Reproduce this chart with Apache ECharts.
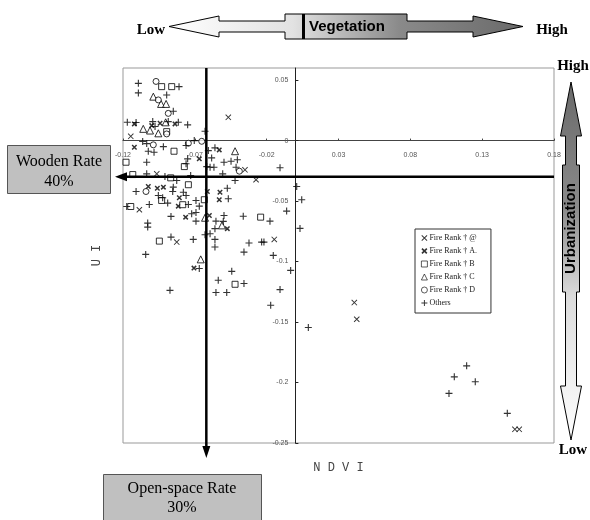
<!DOCTYPE html>
<html>
<head>
<meta charset="utf-8">
<script src="https://cdn.jsdelivr.net/npm/echarts@6/dist/echarts.min.js"></script>
<style>html,body{margin:0;padding:0;background:#fff}#c{width:590px;height:520px}</style>
</head>
<body>
<div id="c"></div>
<script>
// ---- data (NDVI, UI) ----
const seriesNames = ['Fire Rank \u2020 @', 'Fire Rank \u2020 A.', 'Fire Rank \u2020 B', 'Fire Rank \u2020 C', 'Fire Rank \u2020 D', 'Others'];
const fireRankAt = [[-0.0467,0.0192],[-0.0351,-0.0242],[-0.0274,-0.0324],[-0.0965,-0.0275],[-0.1146,0.0035],[-0.1086,-0.0572],[-0.0826,-0.0839],[-0.0147,-0.0817],[0.0410,-0.1339],[0.0427,-0.1477],[0.1528,-0.2387],[0.1558,-0.2387]];
const fireRankA = [[-0.1121,0.0138],[-0.1000,0.0124],[-0.0942,0.0143],[-0.0838,0.0138],[-0.1121,-0.0055],[-0.0669,-0.0151],[-0.0530,-0.0077],[-0.1024,-0.0380],[-0.0961,-0.0394],[-0.0919,-0.0385],[-0.0808,-0.0473],[-0.0815,-0.0542],[-0.0613,-0.0421],[-0.0525,-0.0427],[-0.0530,-0.0489],[-0.0764,-0.0633],[-0.0599,-0.0619],[-0.0474,-0.0728],[-0.0706,-0.1054]];
const fireRankB = [[-0.0931,0.0446],[-0.0861,0.0446],[-0.0896,0.0074],[-0.0845,-0.0088],[-0.1179,-0.0179],[-0.0773,-0.0215],[-0.1132,-0.0281],[-0.0868,-0.0308],[-0.0745,-0.0365],[-0.0931,-0.0495],[-0.1146,-0.0545],[-0.0784,-0.0530],[-0.0634,-0.0489],[-0.0242,-0.0633],[-0.0947,-0.0831],[-0.0420,-0.1188]];
const fireRankC = [[-0.0989,0.0363],[-0.0935,0.0303],[-0.0900,0.0303],[-0.1059,0.0097],[-0.1012,0.0083],[-0.0903,0.0151],[-0.0954,0.0060],[-0.0420,-0.0088],[-0.0629,-0.0638],[-0.0511,-0.0701],[-0.0659,-0.0982]];
const fireRankD = [[-0.0970,0.0489],[-0.0954,0.0336],[-0.0885,0.0225],[-0.0896,0.0055],[-0.0989,-0.0035],[-0.0745,-0.0022],[-0.0652,-0.0006],[-0.0390,-0.0253],[-0.1040,-0.0421]];
const others = [[-0.1093,0.0473],[-0.0810,0.0446],[-0.1093,0.0394],[-0.0896,0.0377],[-0.0850,0.0242],[-0.1170,0.0151],[-0.1109,0.0149],[-0.0993,0.0157],[-0.0977,0.0116],[-0.0885,0.0157],[-0.0815,0.0151],[-0.0750,0.0130],[-0.0629,0.0077],[-0.1063,-0.0008],[-0.1035,-0.0025],[-0.0919,-0.0050],[-0.0761,-0.0041],[-0.0704,0.0000],[-0.1024,-0.0088],[-0.0984,-0.0097],[-0.1035,-0.0179],[-0.0750,-0.0151],[-0.0761,-0.0192],[-0.0606,-0.0083],[-0.0560,-0.0060],[-0.0583,-0.0143],[-0.0617,-0.0215],[-0.0594,-0.0220],[-0.0567,-0.0220],[-0.0497,-0.0179],[-0.0448,-0.0171],[-0.0404,-0.0159],[-0.0413,-0.0220],[-0.0107,-0.0225],[-0.0506,-0.0275],[-0.1035,-0.0275],[-0.0908,-0.0297],[-0.0826,-0.0330],[-0.0729,-0.0289],[-0.0420,-0.0330],[0.0009,-0.0380],[-0.1109,-0.0421],[-0.0954,-0.0454],[-0.0850,-0.0385],[-0.0854,-0.0421],[-0.0780,-0.0427],[-0.0761,-0.0454],[-0.0924,-0.0473],[-0.1017,-0.0528],[-0.0889,-0.0517],[-0.1174,-0.0545],[-0.0745,-0.0528],[-0.0692,-0.0495],[-0.0669,-0.0542],[-0.0474,-0.0394],[-0.0467,-0.0481],[-0.0866,-0.0627],[-0.0722,-0.0605],[-0.0692,-0.0594],[-0.0692,-0.0666],[-0.0497,-0.0619],[-0.0553,-0.0666],[-0.0502,-0.0668],[-0.0560,-0.0728],[-0.0363,-0.0625],[-0.0177,-0.0666],[-0.0061,-0.0583],[-0.1028,-0.0682],[-0.1028,-0.0715],[-0.0594,-0.0770],[-0.0629,-0.0778],[-0.0560,-0.0817],[-0.0560,-0.0880],[-0.0866,-0.0798],[-0.0711,-0.0817],[-0.0323,-0.0847],[-0.0235,-0.0839],[-0.0219,-0.0839],[-0.1042,-0.0941],[-0.0358,-0.0922],[-0.0154,-0.0949],[-0.0033,-0.1073],[-0.0669,-0.1058],[-0.0443,-0.1081],[-0.0537,-0.1155],[-0.0358,-0.1182],[-0.0873,-0.1238],[-0.0553,-0.1256],[-0.0478,-0.1256],[-0.0107,-0.1232],[-0.0172,-0.1361],[0.0044,-0.0489],[0.0032,-0.0726],[0.0090,-0.1545],[0.1192,-0.1862],[0.1106,-0.1953],[0.1252,-0.1994],[0.1069,-0.2090],[0.1475,-0.2255]];
const xMin = -0.12, xMax = 0.18, xStep = 0.05;
const yMin = -0.25, yMax = 0.06, yStep = 0.05;
const openSpaceThreshold = -0.062; // NDVI
const woodenThreshold = -0.03;     // UI
const texts = {
  xName: 'N D V I', yName: 'U I',
  wooden: ['Wooden Rate', '40%'], open: ['Open-space Rate', '30%'],
  veg: 'Vegetation', urb: 'Urbanization', low: 'Low', high: 'High'
};

const plusPath = 'path://M4.2,0h1.6v10h-1.6zM0,4.2h10v1.6h-10z';
const crossPath = 'path://M0,1.1L1.1,0L10,8.9L8.9,10ZM1.1,10L0,8.9L8.9,0L10,1.1Z';
const boldCrossPath = 'path://M0,1.9L1.9,0L10,8.1L8.1,10ZM1.9,10L0,8.1L8.1,0L10,1.9Z';
const hollow = {color: '#fff', borderColor: '#000', borderWidth: 1};
const solid = {color: '#000', borderWidth: 0};
const symbols = [crossPath, boldCrossPath, 'rect', 'triangle', 'circle', plusPath];
const styles = [solid, solid, hollow, hollow, hollow, solid];

const chart = echarts.init(document.getElementById('c'), null, {renderer: 'canvas'});
const axisLabel = {fontFamily: 'Liberation Sans', fontSize: 7, color: '#555'};
chart.setOption({
  animation: false,
  backgroundColor: '#fff',
  grid: {left: 123, right: 36, top: 68, bottom: 77, show: true, borderColor: '#999', borderWidth: 1, backgroundColor: 'transparent'},
  xAxis: {
    type: 'value', min: xMin, max: xMax, interval: xStep, position: 'bottom', offset: 0,
    axisLine: {onZero: false, lineStyle: {color: '#444', width: 1}},
    axisTick: {show: true, length: 2, inside: true, lineStyle: {color: '#444'}},
    splitLine: {show: false},
    axisLabel: Object.assign({margin: 11, formatter: v => (+v).toFixed(2)}, axisLabel)
  },
  yAxis: {
    type: 'value', min: yMin, max: yMax, interval: yStep, position: 'left', offset: 0,
    axisLine: {onZero: false, lineStyle: {color: '#222', width: 1}},
    axisTick: {show: true, length: 3, inside: true, lineStyle: {color: '#222'}},
    splitLine: {show: false},
    axisLabel: Object.assign({margin: 7, showMaxLabel: false, formatter: v => { const r = Math.round(v * 100) / 100; return r === 0 ? '0' : String(r); }}, axisLabel)
  },
  legend: {
    orient: 'vertical', left: 415, top: 229,
    borderColor: '#333', borderWidth: 1, padding: [5, 14, 6, 6],
    itemWidth: 6, itemHeight: 6, itemGap: 5,
    textStyle: {fontFamily: 'Liberation Serif', fontSize: 8, color: '#222', padding: [0, 0, 0, -3]},
    data: seriesNames.map((n, i) => ({name: n, icon: symbols[i], itemStyle: Object.assign({}, styles[i], styles[i] === hollow ? {borderWidth: 0.8} : {})}))
  },
  series: [
    {name: seriesNames[0], type: 'scatter', data: fireRankAt, symbol: symbols[0], symbolSize: 6, itemStyle: styles[0]},
    {name: seriesNames[1], type: 'scatter', data: fireRankA, symbol: symbols[1], symbolSize: 5.5, itemStyle: styles[1]},
    {name: seriesNames[2], type: 'scatter', data: fireRankB, symbol: symbols[2], symbolSize: 6, itemStyle: styles[2]},
    {name: seriesNames[3], type: 'scatter', data: fireRankC, symbol: symbols[3], symbolSize: 7, itemStyle: styles[3]},
    {name: seriesNames[4], type: 'scatter', data: fireRankD, symbol: symbols[4], symbolSize: 6, itemStyle: styles[4]},
    {name: seriesNames[5], type: 'scatter', data: others, symbol: symbols[5], symbolSize: 7, itemStyle: styles[5]}
  ]
});

// ---- positions taken from the axes' scales ----
const px = v => chart.convertToPixel({xAxisIndex: 0}, v);
const py = v => chart.convertToPixel({yAxisIndex: 0}, v);
const gl = px(xMin), gr = px(xMax), gt = py(yMax), gb = py(yMin);
const tx = px(openSpaceThreshold), ty = py(woodenThreshold);
// move the axes so that they cross at zero, labels travelling with them
chart.setOption({xAxis: {offset: -(gb - py(0))}, yAxis: {offset: -(px(0) - gl)}});

const serif = 'Liberation Serif', sans = 'Liberation Sans';
function txt(x, y, s, size, opt) {
  return Object.assign({type: 'text', x: x, y: y, z: 50, style: Object.assign({text: s, fontSize: size, fontFamily: serif, fill: '#000', align: 'center', verticalAlign: 'middle'}, (opt && opt.style) || {})}, (opt && opt.el) || {});
}
function box(x, y, w, h) {
  return {type: 'rect', z: 40, shape: {x: x, y: y, width: w, height: h}, style: {fill: '#c0c0c0', stroke: '#555', lineWidth: 1}};
}
// horizontal double arrow (Vegetation)
const hc = 26.5, hL = 169, hR = 523, hHead = 50, hHeadH = 10.5, hShaft = 5.5, hBoxL = 285, hBoxR = 407, hBox = 12.5;
const hArrow = [[hL, hc], [hL + hHead, hc - hHeadH], [hL + hHead, hc - hShaft], [hBoxL, hc - hShaft], [hBoxL, hc - hBox], [hBoxR, hc - hBox], [hBoxR, hc - hShaft], [hR - hHead, hc - hShaft], [hR - hHead, hc - hHeadH], [hR, hc], [hR - hHead, hc + hHeadH], [hR - hHead, hc + hShaft], [hBoxR, hc + hShaft], [hBoxR, hc + hBox], [hBoxL, hc + hBox], [hBoxL, hc + hShaft], [hL + hHead, hc + hShaft], [hL + hHead, hc + hHeadH]];
// vertical double arrow (Urbanization)
const vc = 571, vT = 82, vB = 440, vHead = 54, vHeadW = 10.5, vShaft = 5.5, vBoxT = 165, vBoxB = 292, vBox = 8.5;
const vArrow = [[vc, vT], [vc + vHeadW, vT + vHead], [vc + vShaft, vT + vHead], [vc + vShaft, vBoxT], [vc + vBox, vBoxT], [vc + vBox, vBoxB], [vc + vShaft, vBoxB], [vc + vShaft, vB - vHead], [vc + vHeadW, vB - vHead], [vc, vB], [vc - vHeadW, vB - vHead], [vc - vShaft, vB - vHead], [vc - vShaft, vBoxB], [vc - vBox, vBoxB], [vc - vBox, vBoxT], [vc - vShaft, vBoxT], [vc - vShaft, vT + vHead], [vc - vHeadW, vT + vHead]];

chart.setOption({
  graphic: [
    // threshold lines with arrowheads
    {type: 'line', z: 30, shape: {x1: gr, y1: ty, x2: gl - 2, y2: ty}, style: {stroke: '#000', lineWidth: 2.5}},
    {type: 'polygon', z: 30, shape: {points: [[gl - 8, ty], [gl + 4, ty - 4.5], [gl + 4, ty + 4.5]]}, style: {fill: '#000'}},
    {type: 'line', z: 30, shape: {x1: tx, y1: gt, x2: tx, y2: gb + 8}, style: {stroke: '#000', lineWidth: 2.5}},
    {type: 'polygon', z: 30, shape: {points: [[tx, gb + 15], [tx - 4, gb + 3], [tx + 4, gb + 3]]}, style: {fill: '#000'}},
    // rate boxes
    box(7.5, 145.5, 103, 48),
    txt(59, 162, texts.wooden[0], 16),
    txt(59, 182, texts.wooden[1], 16),
    box(103.5, 474.5, 158, 60),
    txt(182, 489, texts.open[0], 16),
    txt(182, 508, texts.open[1], 16),
    // axis names
    txt((gl + gr) / 2, gb + 25, texts.xName, 12, {style: {fontFamily: 'Liberation Mono', fill: '#444'}}),
    txt(gl - 26, (gt + gb) / 2, texts.yName, 12, {style: {fontFamily: 'Liberation Mono', fill: '#444'}, el: {rotation: Math.PI / 2}}),
    // vegetation arrow
    {type: 'polygon', z: 20, shape: {points: hArrow}, style: {stroke: '#000', lineWidth: 1, fill: {type: 'linear', x: 0, y: 0, x2: 1, y2: 0, colorStops: [{offset: 0, color: '#ffffff'}, {offset: 0.35, color: '#e2e2e2'}, {offset: 0.65, color: '#8a8a8a'}, {offset: 1, color: '#6a6a6a'}]}}},
    {type: 'rect', z: 21, shape: {x: 302, y: hc - hBox, width: 3, height: hBox * 2}, style: {fill: '#000'}},
    txt(347, hc, texts.veg, 15, {style: {fontFamily: sans, fontWeight: 'bold'}}),
    txt(151, 30, texts.low, 15, {style: {fontWeight: 'bold'}}),
    txt(552, 30, texts.high, 15, {style: {fontWeight: 'bold'}}),
    // urbanization arrow
    {type: 'polygon', z: 20, shape: {points: vArrow}, style: {stroke: '#000', lineWidth: 1, fill: {type: 'linear', x: 0, y: 0, x2: 0, y2: 1, colorStops: [{offset: 0, color: '#6a6a6a'}, {offset: 0.35, color: '#8a8a8a'}, {offset: 0.6, color: '#dcdcdc'}, {offset: 1, color: '#ffffff'}]}}},
    txt(vc, (vBoxT + vBoxB) / 2, texts.urb, 15, {style: {fontFamily: sans, fontWeight: 'bold'}, el: {rotation: Math.PI / 2}}),
    txt(573, 66, texts.high, 15, {style: {fontWeight: 'bold'}}),
    txt(573, 450, texts.low, 15, {style: {fontWeight: 'bold'}})
  ]
});
</script>
</body>
</html>
